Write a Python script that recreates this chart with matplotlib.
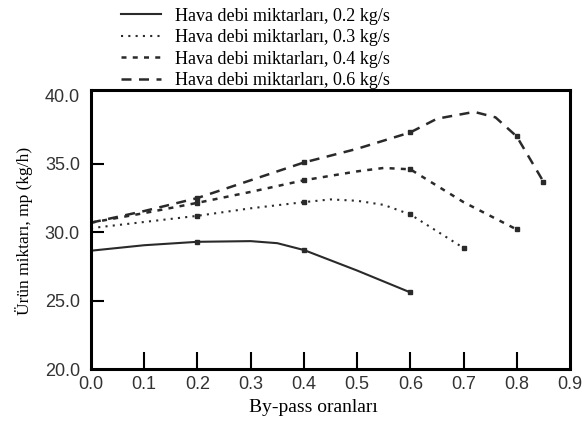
import matplotlib
matplotlib.use("Agg")
import matplotlib.pyplot as plt

# values
x_02 = [0.0, 0.1, 0.2, 0.3, 0.35, 0.4, 0.5, 0.6]
y_02 = [28.65, 29.05, 29.3, 29.35, 29.2, 28.7, 27.2, 25.6]

x_03 = [0.0, 0.1, 0.2, 0.3, 0.4, 0.45, 0.5, 0.55, 0.6, 0.7]
y_03 = [30.3, 30.75, 31.2, 31.75, 32.2, 32.4, 32.3, 32.0, 31.3, 28.85]

x_04 = [0.0, 0.1, 0.2, 0.3, 0.4, 0.5, 0.55, 0.6, 0.7, 0.8]
y_04 = [30.7, 31.4, 32.15, 32.95, 33.8, 34.45, 34.7, 34.6, 32.2, 30.2]

x_06 = [0.0, 0.1, 0.2, 0.3, 0.4, 0.5, 0.6, 0.65, 0.72, 0.76, 0.8, 0.85]
y_06 = [30.7, 31.55, 32.5, 33.8, 35.1, 36.1, 37.3, 38.3, 38.8, 38.4, 37.0, 33.7]

labels = ["Hava debi miktarları, 0.2 kg/s",
          "Hava debi miktarları, 0.3 kg/s",
          "Hava debi miktarları, 0.4 kg/s",
          "Hava debi miktarları, 0.6 kg/s"]

xticks = [0.0, 0.1, 0.2, 0.3, 0.4, 0.5, 0.6, 0.7, 0.8, 0.9]
yticks = [20, 25, 30, 35, 40]

serif = ["Liberation Serif", "DejaVu Serif"]
sans = ["Liberation Sans", "DejaVu Sans"]
col = "#2a2a2a"

fig = plt.figure(figsize=(5.85, 4.25), dpi=100)
ax = fig.add_axes([91/585, 56/425, 479/585, 279/425])

h1, = ax.plot(x_02, y_02, color=col, lw=1.5, ls="-")
h2, = ax.plot(x_03, y_03, color=col, lw=1.5, ls=(0, (1, 2.5)))
h3, = ax.plot(x_04, y_04, color=col, lw=1.8, ls=(0, (2, 2.5)))
h4, = ax.plot(x_06, y_06, color=col, lw=1.8, ls=(0, (4, 3)))

# small point marks at the measured positions
ax.plot([0.2, 0.4, 0.6], [29.3, 28.7, 25.6], ls="none", marker="s", ms=2.5, color=col)
ax.plot([0.2, 0.4, 0.6, 0.7], [31.2, 32.2, 31.3, 28.85], ls="none", marker="s", ms=2.5, color=col)
ax.plot([0.2, 0.4, 0.6, 0.8], [32.15, 33.8, 34.6, 30.2], ls="none", marker="s", ms=2.5, color=col)
ax.plot([0.2, 0.4, 0.6, 0.8, 0.85], [32.5, 35.1, 37.3, 37.0, 33.7], ls="none", marker="s", ms=2.5, color=col)

ax.set_xlim(0, 0.9)
ax.set_ylim(20, 40.4)
ax.set_xticks(xticks)
ax.set_yticks(yticks)
ax.set_xticklabels([f"{v:.1f}" for v in xticks], family=sans, fontsize=13, color="#333333")
ax.set_yticklabels([f"{v:.1f}" for v in yticks], family=sans, fontsize=13, color="#333333")
ax.tick_params(axis="x", direction="in", length=12, width=1.5, pad=5)
ax.tick_params(axis="y", direction="in", length=9, width=1.5, pad=8)
for t in (ax.xaxis.get_major_ticks()[0], ax.xaxis.get_major_ticks()[-1],
          ax.yaxis.get_major_ticks()[0], ax.yaxis.get_major_ticks()[-1]):
    t.tick1line.set_visible(False)

for s in ax.spines.values():
    s.set_linewidth(2.2)
    s.set_color("black")

ax.set_xlabel("By-pass oranları", family=serif, fontsize=14)
ax.xaxis.set_label_coords((313 - 91) / 479, -(399 - 369) / 279)
ax.set_ylabel("Ürün miktarı, mp (kg/h)", family=serif, fontsize=12.5)
ax.yaxis.set_label_coords(-(91 - 33) / 479, (369 - 231) / 279)

fig.legend([h1, h2, h3, h4], labels, loc="upper left",
           bbox_to_anchor=(105/585, 1.02), frameon=False,
           prop={"family": serif, "size": 13}, handlelength=2.2,
           labelspacing=0.25, handletextpad=0.8)

fig.savefig("out.png", dpi=100)
